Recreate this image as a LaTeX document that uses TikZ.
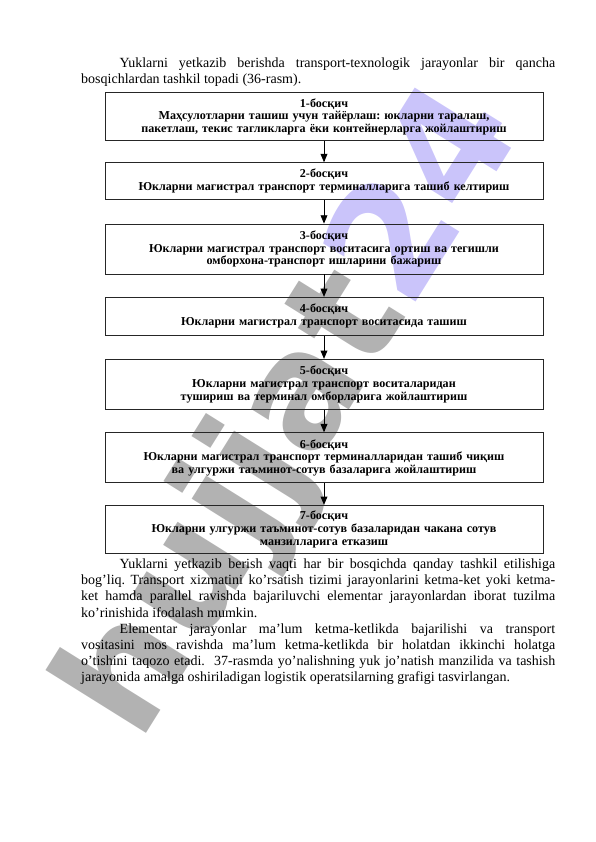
\documentclass[tikz,border=0pt]{standalone}
\usepackage{fontspec}
\setmainfont{Liberation Serif}
\newfontfamily\wmfont{DejaVu Sans}
\usepackage{xcolor}
\usepackage{tikz}
\usetikzlibrary{arrows}
\usetikzlibrary{calc}
\frenchspacing

\definecolor{wmgray}{RGB}{178,178,178}
\definecolor{wmblue}{RGB}{202,196,250}

\tikzset{
  stage/.style={draw=black!85, line width=0.9pt, rectangle, minimum width=438pt,
    text width=434pt, align=center, inner sep=0pt,
    font=\bfseries\fontsize{12.1}{12.7}\selectfont},
  bodyline/.style={anchor=base west, inner sep=0pt, font=\fontsize{14}{16}\selectfont},
  link/.style={->, >=triangle 45, line width=0.9pt}
}

\newcommand{\fullline}[1]{\makebox[474pt][s]{#1}}
\newcommand{\indline}[1]{\makebox[435.5pt][s]{#1}}

\begin{document}
\begin{tikzpicture}[x=1pt,y=-1pt]
  \useasboundingbox (0,0) rectangle (596,842);

  % watermark
  \node[rotate=58, inner sep=0pt, font=\wmfont\bfseries\fontsize{156}{156}\selectfont]
    (wm) at (296,414) {\textcolor{wmgray}{hujjat}\textcolor{wmblue}{24}};

  % text above the chart
  \node[bodyline] (t1) at (119.5,67.5) {\indline{Yuklarni yetkazib berishda transport-texnologik jarayonlar bir qancha}};
  \node[bodyline] (t2) at (81,84) {bosqichlardan tashkil topadi (36-rasm).};

  % stages
  \node[stage, minimum height=48pt] (s1) at (324,116.7)
    {1-босқич\\Маҳсулотларни ташиш учун тайёрлаш: юкларни таралаш,\\пакетлаш, текис тагликларга ёки контейнерларга жойлаштириш};
  \node[stage, minimum height=37.3pt] (s2) at (324,181.3)
    {2-босқич\\Юкларни магистрал транспорт терминалларига ташиб келтириш};
  \node[stage, minimum height=50pt] (s3) at (324,249)
    {3-босқич\\Юкларни магистрал транспорт воситасига ортиш ва тегишли\\омборхона-транспорт ишларини бажариш};
  \node[stage, minimum height=38pt] (s4) at (324,316.3)
    {4-босқич\\Юкларни магистрал транспорт воситасида ташиш};
  \node[stage, minimum height=50pt] (s5) at (324,384.3)
    {5-босқич\\Юкларни магистрал транспорт воситаларидан\\тушириш ва терминал омборларига жойлаштириш};
  \node[stage, minimum height=50pt] (s6) at (324,457.7)
    {6-босқич\\Юкларни магистрал транспорт терминалларидан ташиб чиқиш\\ва улгуржи таъминот-сотув базаларига жойлаштириш};
  \node[stage, minimum height=48pt] (s7) at (324,529.3)
    {7-босқич\\Юкларни улгуржи таъминот-сотув базаларидан чакана сотув\\манзилларига етказиш};

  \foreach \a/\b in {1/2,2/3,3/4,4/5,5/6,6/7} {%
    \draw[link] (s\a.south) -- (s\b.north);
  }

  % text below the chart
  \node[bodyline] (t3) at (119.5,568.5) {\indline{Yuklarni yetkazib berish vaqti har bir bosqichda qanday tashkil etilishiga}};
  \node[bodyline] (t4) at (81,584.7) {\fullline{bog’liq. Transport xizmatini ko’rsatish tizimi jarayonlarini ketma-ket yoki ketma-}};
  \node[bodyline] (t5) at (81,600.9) {\fullline{ket hamda parallel ravishda bajariluvchi elementar jarayonlardan iborat tuzilma}};
  \node[bodyline] (t6) at (81,617.1) {ko’rinishida ifodalash mumkin.};
  \node[bodyline] (t7) at (119.5,633.3) {\indline{Elementar jarayonlar ma’lum ketma-ketlikda bajarilishi va transport}};
  \node[bodyline] (t8) at (81,649.5) {\fullline{vositasini mos ravishda ma’lum ketma-ketlikda bir holatdan ikkinchi holatga}};
  \node[bodyline] (t9) at (81,665.7) {\fullline{o’tishini taqozo etadi.\ \ 37-rasmda yo’nalishning yuk jo’natish manzilida va tashish}};
  \node[bodyline] (t10) at (81,681.9) {jarayonida amalga oshiriladigan logistik operatsilarning grafigi tasvirlangan.};
\end{tikzpicture}
\end{document}
